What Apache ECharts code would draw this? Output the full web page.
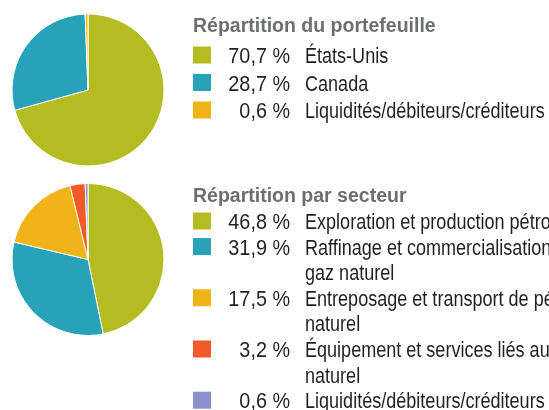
<!DOCTYPE html>
<html>
<head>
<meta charset="utf-8">
<script src="https://cdn.jsdelivr.net/npm/echarts@6/dist/echarts.min.js"></script>
<style>
  html, body { margin: 0; padding: 0; background: #fff; }
  #chart { width: 549px; height: 410px; }
</style>
</head>
<body>
<div id="chart"></div>
<script>
// données
const portTitle = "Répartition du portefeuille";
const portNames = ["États-Unis", "Canada", "Liquidités/débiteurs/créditeurs"];
const portValues = [70.7, 28.7, 0.6];
const portColors = ["#b3bd22", "#27a2b8", "#f0b418"];

const sectTitle = "Répartition par secteur";
const sectNames = [
  "Exploration et production pétrolière et gazière",
  "Raffinage et commercialisation de pétrole et de\ngaz naturel",
  "Entreposage et transport de pétrole et de gaz\nnaturel",
  "Équipement et services liés au pétrole et au gaz\nnaturel",
  "Liquidités/débiteurs/créditeurs"
];
const sectValues = [46.8, 31.9, 17.5, 3.2, 0.6];
const sectColors = ["#b3bd22", "#27a2b8", "#f0b418", "#f15a29", "#8b90c8"];

const FONT = '"Liberation Sans", Arial, sans-serif';

function fmt(v) {
  return v.toFixed(1).replace(".", ",") + " %";
}

function pieSeries(names, values, colors, cy) {
  return {
    type: "pie",
    center: [88, cy],
    radius: 76,
    startAngle: 90,
    clockwise: true,
    label: { show: false },
    labelLine: { show: false },
    emphasis: { disabled: true },
    itemStyle: { borderColor: "#fff", borderWidth: 1 },
    data: names.map((n, i) => ({ name: n, value: values[i], itemStyle: { color: colors[i] } }))
  };
}

// légende faite à la main (carré + pourcentage + libellé), texte étroit via scaleX
function legendBlock(title, names, values, colors, titleY, firstY, rowH) {
  const els = [];
  const dy = 2; // petit décalage du texte vers le bas
  els.push({
    type: "text", x: 193, y: titleY + dy,
    style: { text: title, font: "bold 19.5px " + FONT, fill: "#6d6e71", verticalAlign: "middle" }
  });
  let y = firstY;
  names.forEach((n, i) => {
    els.push({
      type: "rect", shape: { x: 193, y: y - 8.5, width: 18, height: 17 },
      style: { fill: colors[i] }
    });
    els.push({
      type: "text", x: 290, y: y + dy, scaleX: 0.9,
      style: { text: fmt(values[i]), font: "22px " + FONT, fill: "#231f20", align: "right", verticalAlign: "middle" }
    });
    n.split("\n").forEach((line, k) => {
      els.push({
        type: "text", x: 305, y: y + k * rowH + dy, scaleX: 0.82,
        style: { text: line, font: "22px " + FONT, fill: "#231f20", verticalAlign: "middle" }
      });
    });
    y += rowH * n.split("\n").length;
  });
  return els;
}

const chart = echarts.init(document.getElementById("chart"));
chart.setOption({
  animation: false,
  backgroundColor: "#fff",
  series: [
    pieSeries(portNames, portValues, portColors, 90),
    pieSeries(sectNames, sectValues, sectColors, 259.5)
  ],
  graphic: legendBlock(portTitle, portNames, portValues, portColors, 25, 55, 27.5)
    .concat(legendBlock(sectTitle, sectNames, sectValues, sectColors, 195, 221, 25.6))
});
</script>
</body>
</html>
